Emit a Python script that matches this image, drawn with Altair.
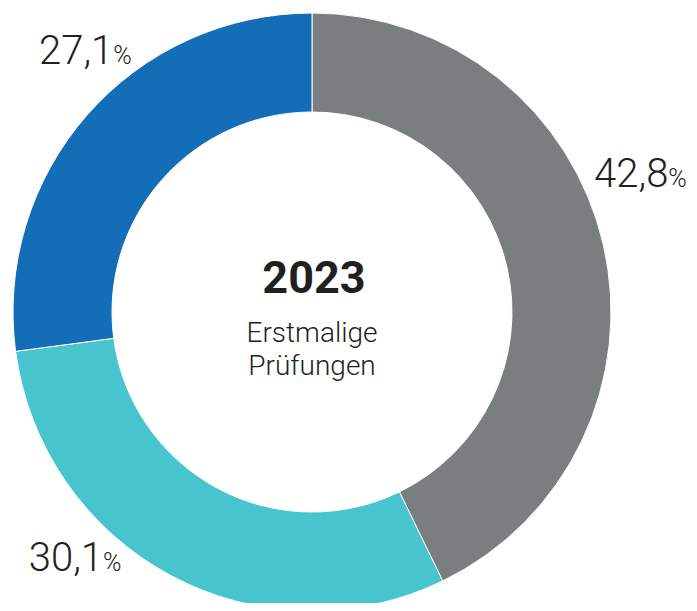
import altair as alt
import pandas as pd

categories = ["A", "B", "C"]
values = [42.8, 30.1, 27.1]
labels = ["42,8", "30,1", "27,1"]
colors = ["#7a7e7f", "#48c4cf", "#136db7"]
center_year = "2023"
center_lines = ["Erstmalige", "Prüfungen"]

df = pd.DataFrame({"cat": categories, "value": values, "label": labels,
                   "idx": list(range(len(categories)))})

FONT = "Roboto"
TXT = "#231f20"
CX, CY = 304, 304

base = alt.Chart(df)

arcs = base.mark_arc(radius=299, radius2=200, stroke="white", strokeWidth=1).encode(
    theta=alt.Theta("value:Q", stack=True, scale=alt.Scale(domain=[0, 100])),
    order=alt.Order("idx:Q"),
    color=alt.Color("cat:N", scale=alt.Scale(domain=categories, range=colors), legend=None),
    x=alt.value(CX), y=alt.value(CY),
)

offsets = {"A": (25, -49), "B": (-48, -40), "C": (57, -24)}

label_layers = []
for cat, (dx, dy) in offsets.items():
    lb = base.transform_window(
        cum="sum(value)", sort=[alt.SortField("idx")]
    ).transform_calculate(
        mid="datum.cum - datum.value / 2"
    ).transform_filter(alt.datum.cat == cat)
    enc = dict(
        theta=alt.Theta("mid:Q", scale=alt.Scale(domain=[0, 100], range=[0, 6.283185307])),
        x=alt.value(CX), y=alt.value(CY),
    )
    num = lb.mark_text(radius=340, dx=dx, dy=dy, align="right", baseline="alphabetic",
                       font=FONT, fontWeight=300, fontSize=40, color=TXT).encode(
        text="label:N", **enc)
    pct = lb.mark_text(radius=340, dx=dx, dy=dy, align="left", baseline="alphabetic",
                       font=FONT, fontWeight=300, fontSize=25, color=TXT).encode(
        text=alt.value("%"), **enc)
    label_layers += [num, pct]

year = alt.Chart(pd.DataFrame({"t": [center_year]})).mark_text(
    font=FONT, fontWeight="bold", fontSize=45, color=TXT, align="center", baseline="alphabetic"
).encode(text="t:N", x=alt.value(CX + 2), y=alt.value(285))

sub = alt.Chart(pd.DataFrame({"t": ["\n".join(center_lines)]})).mark_text(
    font=FONT, fontWeight=300, fontSize=28, color=TXT, align="center", baseline="alphabetic",
    lineBreak="\n", lineHeight=33
).encode(text="t:N", x=alt.value(CX), y=alt.value(334))

chart = alt.layer(arcs, *label_layers, year, sub).properties(
    width=681, height=595, padding=0, autosize=alt.AutoSizeParams(type="none")
).configure_view(stroke=None)

chart.save("out.html", embed_options={"renderer": "svg", "actions": False})
